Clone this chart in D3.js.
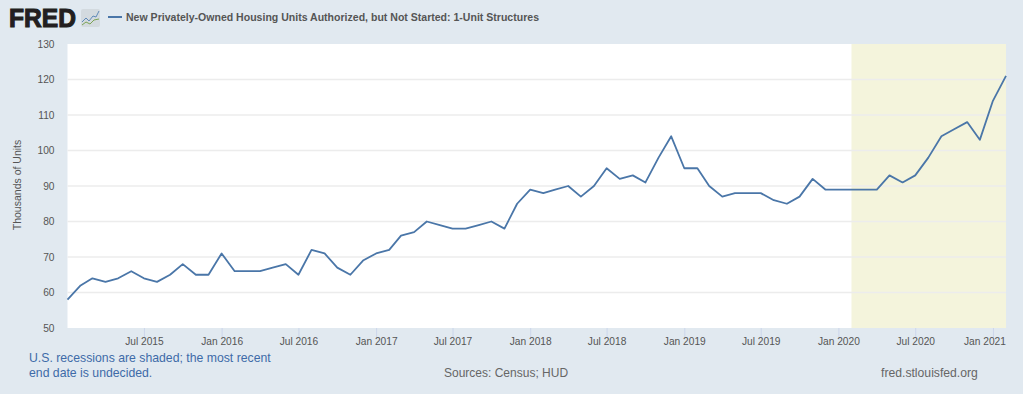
<!DOCTYPE html>
<html><head><meta charset="utf-8">
<script src="https://cdn.jsdelivr.net/npm/d3@7"></script>
<style>html,body{margin:0;padding:0;background:#e1e9f0}svg{display:block}text{font-family:"Liberation Sans",Arial,sans-serif}</style>
</head><body><svg id="c" width="1023" height="394"></svg>
<script>
const startYear = 2015;
const values = [
 58,62,64,63,64,66,64,63,65,68,65,65,
 71,66,66,66,67,68,65,72,71,67,65,69,
 71,72,76,77,80,79,78,78,79,80,78,85,
 89,88,89,90,87,90,95,92,93,91,98,104,
 95,95,90,87,88,88,88,86,85,87,92,89,
 89,89,89,89,93,91,93,98,104,106,108,103,
 114,121];
const yTicks = [50,60,70,80,90,100,110,120,130];
const xTickDates = ["2015-07","2016-01","2016-07","2017-01","2017-07","2018-01","2018-07","2019-01","2019-07","2020-01","2020-07","2021-01"];
const recession = ["2020-02","2021-02"];
const title = "New Privately-Owned Housing Units Authorized, but Not Started: 1-Unit Structures";

const parse = s => { const [y,m]=s.split("-").map(Number); return new Date(Date.UTC(y,m-1,1)); };
const dates = values.map((_,i)=>new Date(Date.UTC(startYear,i,1)));
const svg = d3.select("#c");
const L=67.5,R=1006,T=44,B=328;
const x = d3.scaleUtc().domain([dates[0],dates[dates.length-1]]).range([L,R]);
const y = d3.scaleLinear().domain([50,130]).range([B,T]);

svg.append("rect").attr("x",L).attr("y",T).attr("width",R-L).attr("height",B-T).attr("fill","#fff");
svg.append("rect").attr("x",x(parse(recession[0]))).attr("y",T)
  .attr("width",x(parse(recession[1]))-x(parse(recession[0]))).attr("height",B-T).attr("fill","#f4f4dc");

svg.append("g").selectAll("line").data(yTicks.filter(d=>d>50&&d<130)).join("line")
  .attr("x1",L).attr("x2",R).attr("y1",d=>y(d)).attr("y2",d=>y(d))
  .attr("stroke","#ececec").attr("stroke-width",1.3);

const yAxis = svg.append("g").attr("transform",`translate(${L},0)`)
  .call(d3.axisLeft(y).tickValues(yTicks).tickSize(0).tickPadding(13));
yAxis.select(".domain").remove();
yAxis.selectAll("text").attr("font-size",10.2).attr("fill","#555");

const xAxis = svg.append("g").attr("transform",`translate(0,${B})`)
  .call(d3.axisBottom(x).tickValues(xTickDates.map(parse)).tickSize(10).tickPadding(0)
    .tickFormat(d3.utcFormat("%b %Y")));
xAxis.select(".domain").remove();
xAxis.selectAll("line").attr("stroke","#ccd6eb");
xAxis.selectAll("text").attr("font-size",10.2).attr("fill","#555");
// the last label is pulled inside the plot's right edge
xAxis.selectAll("g.tick").filter((d,i,n)=>i===n.length-1).select("text")
  .attr("text-anchor","end").attr("x",12.5);

svg.append("path").datum(values)
  .attr("d",d3.line().x((d,i)=>x(dates[i])).y(d=>y(d)))
  .attr("fill","none").attr("stroke","#4a76a8").attr("stroke-width",1.8).attr("stroke-linejoin","round");

svg.append("text").attr("transform",`translate(21,${(T+B)/2-1}) rotate(-90)`).attr("text-anchor","middle")
  .attr("font-size",10.5).attr("fill","#555").text("Thousands of Units");

// header
svg.append("text").attr("x",9).attr("y",27).attr("font-size",26).attr("font-weight",700)
  .attr("fill","#231f20").attr("textLength",67).attr("lengthAdjust","spacingAndGlyphs")
  .style("stroke","#231f20").style("stroke-width",1.1).text("FRED");
svg.append("rect").attr("x",81).attr("y",9).attr("width",19).attr("height",18).attr("rx",2).attr("fill","#d3dadf");
svg.append("path").attr("d","M82 22L86 18L89 21L93 16L96 17L99 11").attr("fill","none").attr("stroke","#5f8ab8").attr("stroke-width",1);
svg.append("path").attr("d","M82 25L86 22L90 24L94 20L99 19").attr("fill","none").attr("stroke","#7ca455").attr("stroke-width",1);
svg.append("line").attr("x1",108).attr("x2",122).attr("y1",17).attr("y2",17).attr("stroke","#4a76a8").attr("stroke-width",2);
svg.append("text").attr("x",126).attr("y",21).attr("font-size",11).attr("font-weight",700).attr("fill","#555")
  .attr("textLength",413).attr("lengthAdjust","spacingAndGlyphs").text(title);

// footer
const note = svg.append("text").attr("font-size",12.25).attr("fill","#3e6ba8");
note.append("tspan").attr("x",29).attr("y",361.5).text("U.S. recessions are shaded; the most recent");
note.append("tspan").attr("x",29).attr("y",376.5).text("end date is undecided.");
svg.append("text").attr("x",444).attr("y",376.5).attr("font-size",12).attr("fill","#666").text("Sources: Census; HUD");
svg.append("text").attr("x",881).attr("y",376.5).attr("font-size",12.2).attr("fill","#666").text("fred.stlouisfed.org");
</script></body></html>
